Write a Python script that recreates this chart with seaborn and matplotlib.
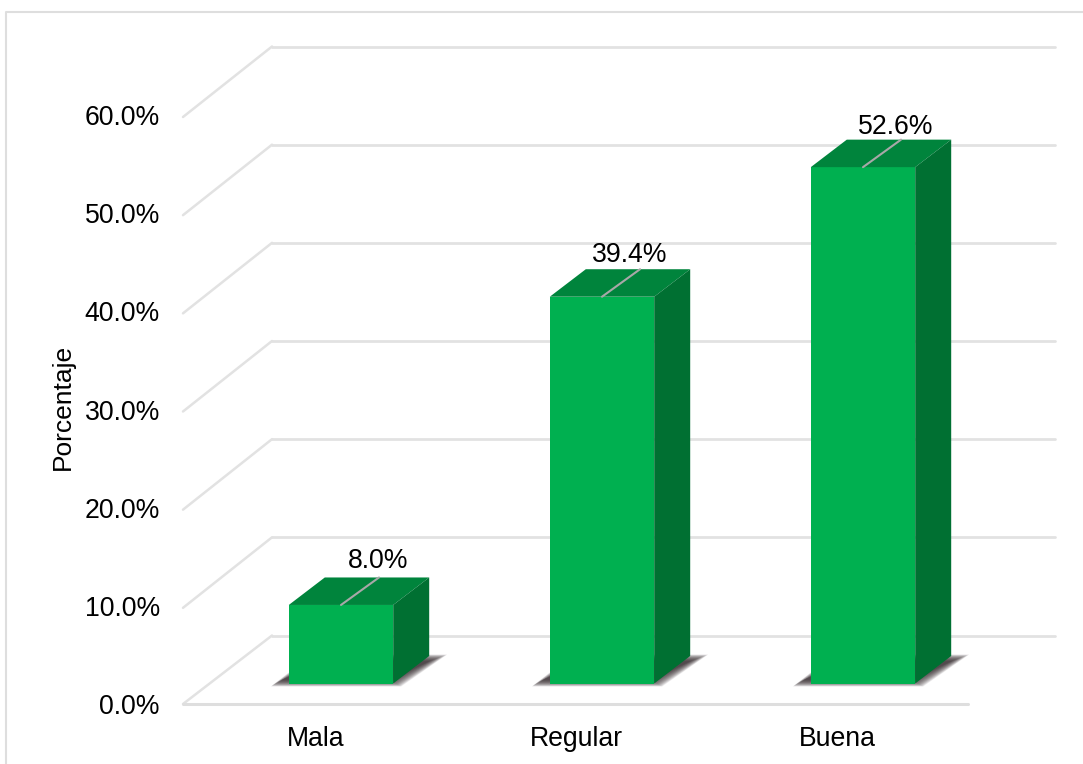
import seaborn as sns
from matplotlib import pyplot as plt
from matplotlib.lines import Line2D
from matplotlib.patches import Polygon

categories = ['Mala', 'Regular', 'Buena']
values = [8.0, 39.4, 52.6]
y_ticks = [0, 10, 20, 30, 40, 50, 60]
label_shift_x = [37, 28, 33]
label_shift_y = [16, 14, 13]

WIDTH, HEIGHT = 1083, 764
LEFT, RIGHT, BOTTOM, TOP = 185, 968, 704, 115
PX_X = 3 / (RIGHT - LEFT)
PX_Y = 60 / (BOTTOM - TOP)


def sx(px):
    return px * PX_X


def sy(px):
    return px * PX_Y


def main():
    sns.set_style('white')
    plt.rcParams['font.family'] = ['Liberation Sans', 'DejaVu Sans']

    fig = plt.figure(figsize=(WIDTH / 100, HEIGHT / 100), dpi=100)
    ax = fig.add_axes([LEFT / WIDTH, 1 - BOTTOM / HEIGHT, (RIGHT - LEFT) / WIDTH, (BOTTOM - TOP) / HEIGHT])
    ax.patch.set_alpha(0)

    sns.barplot(x=categories, y=values, color='#00b050', saturation=1, width=0.4, ax=ax, zorder=4,
                edgecolor='none', linewidth=0)
    ax.set_xlim(-0.5, 2.5)
    ax.set_ylim(0, 60)

    # back wall + side wall
    wall_x, wall_y = sx(87), sy(68.5)
    for t in y_ticks:
        ax.plot([-0.5 + wall_x, 2.5 + wall_x], [t + wall_y, t + wall_y], color='#e2e2e2', lw=2, clip_on=False, zorder=1)
        ax.plot([-0.5 - sx(2), -0.5 + wall_x], [t - sy(2) if t else 0, t + wall_y], color='#e2e2e2', lw=1.8, clip_on=False, zorder=1)
    ax.plot([-0.5 - sx(2), 2.5], [0, 0], color='#dedede', lw=2.2, clip_on=False, zorder=1)

    # bars sit halfway into the floor
    dx, dy = sx(25.5), sy(20.5)
    depth_x, depth_y = sx(36), sy(27.5)
    for i, (bar, value) in enumerate(zip(ax.patches, values)):
        bar.set_x(bar.get_x() + dx)
        bar.set_y(dy)
        bar.set_clip_on(False)
        x0 = bar.get_x()
        x1 = x0 + bar.get_width()
        y1 = dy + value
        mid = (x0 + x1) / 2

        # soft shadow on the floor, stacked from wide to narrow
        for k in range(24):
            grow = 5 - k * 0.5
            ax.add_patch(Polygon([(x0 - sx(13 + grow), dy - sy(0 + grow * 0.6)),
                                  (x1 + sx(3 + grow), dy - sy(0 + grow * 0.6)),
                                  (x1 + sx(46 + grow * 1.6), dy + sy(26 + grow * 0.6)),
                                  (x0 + sx(28 - grow), dy + sy(26 + grow * 0.6))],
                                 closed=True, fc='#3c3236', ec='none', alpha=0.08, clip_on=False, zorder=2))

        ax.add_patch(Polygon([(x0, y1), (x1, y1), (x1 + depth_x, y1 + depth_y), (x0 + depth_x, y1 + depth_y)],
                             closed=True, fc='#00843c', ec='none', clip_on=False, zorder=4))
        ax.add_patch(Polygon([(x1, dy), (x1 + depth_x, dy + depth_y), (x1 + depth_x, y1 + depth_y), (x1, y1)],
                             closed=True, fc='#007032', ec='none', clip_on=False, zorder=4))
        ax.plot([mid, mid + depth_x + sx(2)], [y1, y1 + depth_y], color='#a8a8a8', lw=1.5, clip_on=False, zorder=5)
        ax.text(mid + sx(label_shift_x[i]), y1 + depth_y + sy(label_shift_y[i]), f'{value:.1f}%', ha='center',
                va='center', fontsize=19.2, color='black', zorder=6, clip_on=False)

    ax.set_yticks(y_ticks)
    ax.set_yticklabels([f'{t:.1f}%' for t in y_ticks], fontsize=19.2, color='black')
    ax.tick_params(axis='y', length=0, pad=18)
    ax.tick_params(axis='x', length=0, pad=16, labelsize=19.2, labelcolor='black')
    ax.set_ylabel('Porcentaje', fontsize=19, color='black')
    ax.yaxis.set_label_coords((75 - LEFT) / (RIGHT - LEFT), (BOTTOM - 407) / (BOTTOM - TOP))
    sns.despine(ax=ax, left=True, bottom=True)

    # chart frame, only the left and top edges show
    fig.add_artist(Line2D([6 / WIDTH, 6 / WIDTH, 1], [0, 1 - 12 / HEIGHT, 1 - 12 / HEIGHT],
                          color='#dedede', lw=1.5))

    fig.savefig('out.png', dpi=100)


if __name__ == '__main__':
    main()
